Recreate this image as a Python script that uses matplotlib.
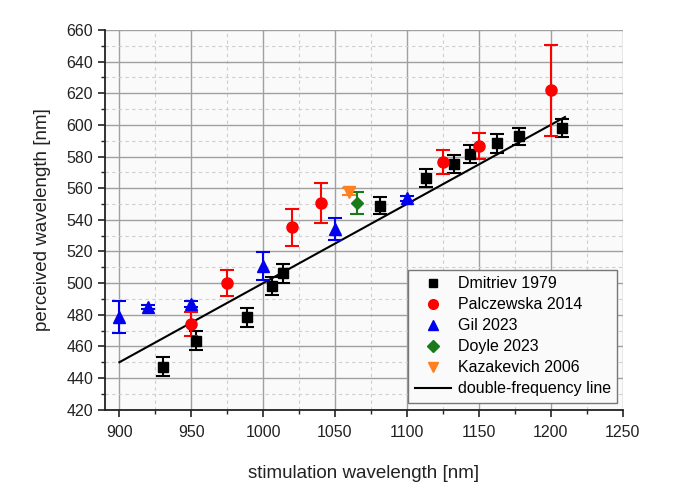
import matplotlib
matplotlib.use("Agg")
import matplotlib.pyplot as plt
from matplotlib.lines import Line2D
from matplotlib.ticker import MultipleLocator

plt.rcParams['font.family'] = ['Liberation Sans', 'DejaVu Sans']

# Data
dmitriev_x = [930, 953, 989, 1006, 1014, 1081, 1113, 1133, 1144, 1163, 1178, 1208]
dmitriev_y = [447.2, 463.6, 478.3, 498.3, 506.3, 548.9, 566.4, 575.2, 581.5, 588.5, 592.7, 598.0]
dmitriev_err = [6, 6, 6, 5.5, 6, 5.5, 5.5, 5.5, 5.5, 6, 5.5, 5.5]

palcz_x = [950, 975, 1020, 1040, 1125, 1150, 1200]
palcz_y = [474.1, 500.0, 535.2, 550.6, 576.5, 586.6, 621.8]
palcz_err = [7.4, 8.4, 11.8, 12.4, 7.7, 8.0, 28.7]

gil_x = [900, 920, 950, 1000, 1050, 1100]
gil_y = [478.6, 484.9, 487.0, 511.0, 534.2, 553.7]
gil_err = [10, 1, 2, 8.8, 7, 1.5]

doyle_x = [1065]
doyle_y = [550.6]
doyle_err = [6.8]

kaz_x = [1060]
kaz_y = [557.9]
kaz_err = [2]

line_x = [900, 1210]
line_y = [x / 2 for x in line_x]

fig = plt.figure(figsize=(6.74, 4.9), dpi=100)
ax = fig.add_axes([105/674, 1 - 409.7/490, (622.5 - 105)/674, (409.7 - 30)/490])
ax.set_facecolor('#fafafa')

ax.set_xlim(890, 1250)
ax.set_ylim(420, 660)
ax.xaxis.set_major_locator(MultipleLocator(50))
ax.xaxis.set_minor_locator(MultipleLocator(25))
ax.yaxis.set_major_locator(MultipleLocator(20))
ax.yaxis.set_minor_locator(MultipleLocator(10))
ax.grid(which='major', color='#a0a0a0', linewidth=1.0, linestyle='-')
ax.grid(which='minor', color='#cfcfcf', linewidth=0.8, linestyle=(0, (3, 3)))
ax.set_axisbelow(True)

for s in ['top', 'right']:
    ax.spines[s].set_visible(False)
for s in ['left', 'bottom']:
    ax.spines[s].set_linewidth(1.3)
    ax.spines[s].set_color('#222222')
ax.tick_params(which='major', direction='out', length=5, width=1.2, labelsize=11.5, colors='#222222')
ax.tick_params(axis='x', which='major', pad=6)
ax.tick_params(which='minor', direction='out', length=3, width=1.0, colors='#222222')

ax.plot(line_x, line_y, color='black', linewidth=1.5, zorder=3)

ekw = dict(linestyle='none', capsize=5, elinewidth=1.5, capthick=1.5, zorder=4)
ax.errorbar(dmitriev_x, dmitriev_y, yerr=dmitriev_err, fmt='s', color='black', markersize=7, **ekw)
ax.errorbar(palcz_x, palcz_y, yerr=palcz_err, fmt='o', color='#ff0000', markersize=8, **ekw)
ax.errorbar(gil_x, gil_y, yerr=gil_err, fmt='^', color='#0000ee', markersize=8.5, **ekw)
ax.errorbar(doyle_x, doyle_y, yerr=doyle_err, fmt='D', color='#1a7a1a', markersize=6.5, **ekw)
ax.errorbar(kaz_x, kaz_y, yerr=kaz_err, fmt='v', color='#ff8020', markersize=8.5, **ekw)

ax.set_xlabel('stimulation wavelength [nm]', fontsize=13.5, labelpad=18, color='#222222')
ax.set_ylabel('perceived wavelength [nm]', fontsize=13.5, labelpad=11, color='#222222')

handles = [
    Line2D([], [], linestyle='none', marker='s', color='black', markersize=6),
    Line2D([], [], linestyle='none', marker='o', color='#ff0000', markersize=7),
    Line2D([], [], linestyle='none', marker='^', color='#0000ee', markersize=7.5),
    Line2D([], [], linestyle='none', marker='D', color='#1a7a1a', markersize=6),
    Line2D([], [], linestyle='none', marker='v', color='#ff8020', markersize=7.5),
    Line2D([], [], color='black', linewidth=1.5),
]
labels = ['Dmitriev 1979', 'Palczewska 2014', 'Gil 2023', 'Doyle 2023',
          'Kazakevich 2006', 'double-frequency line']
leg = ax.legend(handles, labels, loc='lower right', bbox_to_anchor=(0.99, 0.018),
                fontsize=11.5, frameon=True, fancybox=False, framealpha=1,
                edgecolor='#777777', facecolor='#fafafa', handlelength=2.3,
                handletextpad=0.4, labelspacing=0.38, borderpad=0.4,
                borderaxespad=0)
leg.get_frame().set_linewidth(1.0)

fig.savefig('out.png', dpi=100)
